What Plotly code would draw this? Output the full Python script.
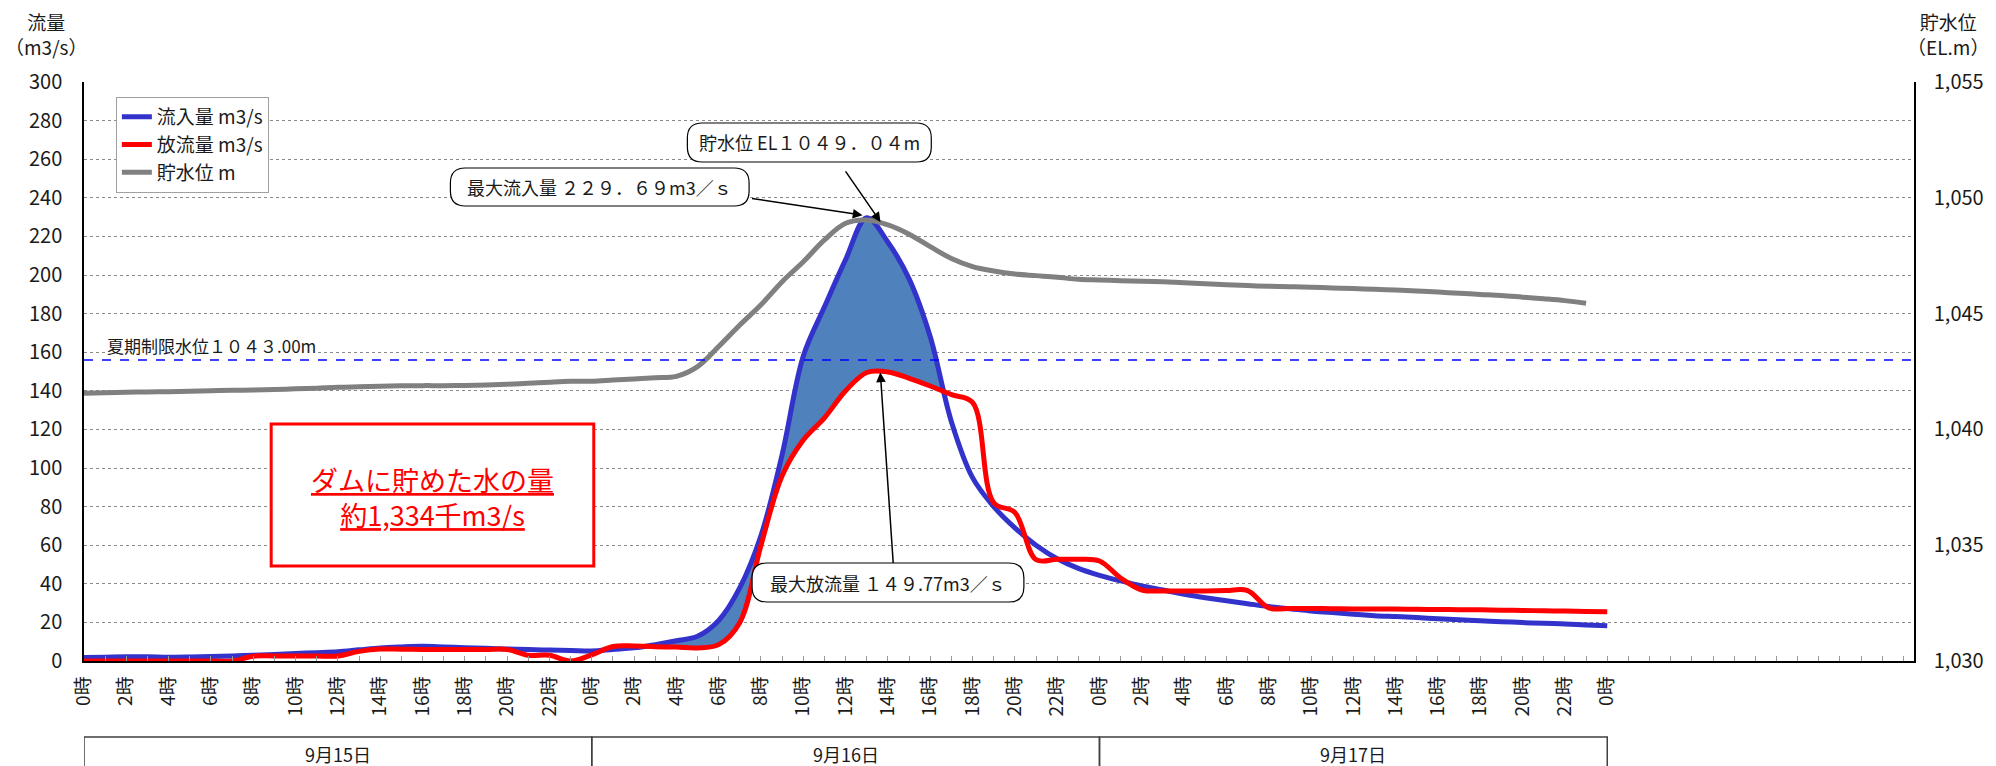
import plotly.graph_objects as go

# ---------------- data (hourly, 9/15 0時 = hour 0) ----------------
hours = list(range(73))
inflow = [
    1.8, 2.0, 2.2, 2.2, 2.0, 2.1, 2.3, 2.6, 3.0, 3.4, 3.9, 4.3,
    4.8, 5.8, 6.8, 7.3, 7.6, 7.3, 6.9, 6.6, 6.2, 5.9, 5.7, 5.5,
    5.2, 6.0, 6.8, 8.5, 10.5, 12.8, 21.0, 38.0, 65.0, 107.0, 158.0, 183.5,
    208.0, 229.69, 217.0, 198.0, 168.0, 124.0, 95.0, 80.0, 69.0, 60.0, 53.0, 48.0,
    44.4, 41.5, 38.9, 36.8, 34.6, 32.8, 31.2, 29.7, 28.2, 27.1, 25.9, 25.1,
    24.2, 23.5, 23.0, 22.5, 21.9, 21.4, 20.8, 20.4, 19.9, 19.5, 19.2, 18.7,
    18.2,
]
outflow = [
    0.0, 0.0, 0.0, 0.0, 0.0, 0.0, 0.0, 0.0, 2.5, 2.6, 2.6, 2.6,
    2.6, 5.0, 6.2, 6.1, 6.0, 6.0, 6.0, 6.0, 6.0, 3.0, 3.0, 0.0,
    3.2, 7.5, 7.8, 7.4, 7.2, 6.8, 8.5, 20.0, 60.0, 96.0, 114.5, 126.0,
    140.0, 149.5, 149.77, 146.5, 142.5, 138.0, 134.0, 82.0, 77.0, 52.5, 52.7, 52.7,
    51.8, 43.0, 36.8, 36.3, 36.3, 36.3, 36.5, 36.5, 27.5, 27.2, 27.2, 27.1,
    27.0, 27.0, 26.9, 26.8, 26.7, 26.6, 26.5, 26.3, 26.2, 26.0, 25.9, 25.7,
    25.5,
]
level_hours = list(range(72))
level = [
    1041.56, 1041.58, 1041.60, 1041.62, 1041.63, 1041.65, 1041.67, 1041.69, 1041.70, 1041.72, 1041.75, 1041.78,
    1041.82, 1041.84, 1041.86, 1041.88, 1041.89, 1041.89, 1041.90, 1041.92, 1041.95, 1041.99, 1042.04, 1042.08,
    1042.08, 1042.13, 1042.18, 1042.23, 1042.29, 1042.71, 1043.58, 1044.51, 1045.38, 1046.38, 1047.24, 1048.18,
    1048.90, 1049.04, 1048.83, 1048.43, 1047.89, 1047.38, 1047.03, 1046.84, 1046.71, 1046.64, 1046.57, 1046.48,
    1046.45, 1046.42, 1046.40, 1046.37, 1046.33, 1046.29, 1046.25, 1046.21, 1046.18, 1046.16, 1046.14, 1046.11,
    1046.08, 1046.05, 1046.02, 1045.98, 1045.93, 1045.88, 1045.83, 1045.78, 1045.71, 1045.64, 1045.56, 1045.45,
]
label_hours = list(range(0, 73, 2))
label_text = [f"{h % 24}時" for h in label_hours]
dates = ["9月15日", "9月16日", "9月17日"]
limit_level = 1043.0

names = ["流入量 m3/s", "放流量 m3/s", "貯水位 m"]

# ---------------- styling ----------------
FONT = "Noto Sans CJK JP"
TXT = "#1a1a1a"
BLUE = "#3333CC"
RED = "#FF0000"
GRAY = "#808080"
FILL = "#4F81BD"

W, H = 1996, 766
L, R, T, B = 84, 74, 82, 105
PW, PH = W - L - R, H - T - B


def pp(px, py):
    return (px - L) / PW, (T + PH - py) / PH


def rounded_path(x0, y0, x1, y1, r):
    def P(x, y):
        a, b = pp(x, y)
        return f"{a:.5f},{b:.5f}"
    return (f"M {P(x0 + r, y0)} L {P(x1 - r, y0)} Q {P(x1, y0)} {P(x1, y0 + r)} "
            f"L {P(x1, y1 - r)} Q {P(x1, y1)} {P(x1 - r, y1)} L {P(x0 + r, y1)} "
            f"Q {P(x0, y1)} {P(x0, y1 - r)} L {P(x0, y0 + r)} Q {P(x0, y0)} {P(x0 + r, y0)} Z")


# ---------------- storage fill region (inflow > outflow around the peak) ----------------
diff = [a - b for a, b in zip(inflow, outflow)]
pk = inflow.index(max(inflow))
i0 = pk
while diff[i0 - 1] > 0:
    i0 -= 1
i1 = pk
while diff[i1 + 1] > 0:
    i1 += 1


def crossing(a, b):
    t = diff[a] / (diff[a] - diff[b])
    return hours[a] + t * (hours[b] - hours[a]), inflow[a] + t * (inflow[b] - inflow[a])


xc0, yc0 = crossing(i0 - 1, i0)
xc1, yc1 = crossing(i1, i1 + 1)
fx = [xc0] + hours[i0:i1 + 1] + [xc1]
f_top = [yc0] + inflow[i0:i1 + 1] + [yc1]
f_base = [yc0] + outflow[i0:i1 + 1] + [yc1]

fig = go.Figure()
spl = dict(shape="spline", smoothing=1.0)
fig.add_trace(go.Scatter(x=fx, y=f_base, mode="lines", line=dict(width=0, color=FILL, **spl),
                         showlegend=False, hoverinfo="skip"))
fig.add_trace(go.Scatter(x=fx, y=f_top, mode="lines", line=dict(width=0, color=FILL, **spl),
                         fill="tonexty", fillcolor=FILL, showlegend=False, hoverinfo="skip"))

fig.add_trace(go.Scatter(x=level_hours, y=level, name=names[2], mode="lines", yaxis="y2",
                         line=dict(color=GRAY, width=5, **spl), legendgroup="c", legendrank=3))
fig.add_trace(go.Scatter(x=hours, y=inflow, name=names[0], mode="lines",
                         line=dict(color=BLUE, width=5, **spl), legendgroup="a", legendrank=1))
fig.add_trace(go.Scatter(x=hours, y=outflow, name=names[1], mode="lines",
                         line=dict(color=RED, width=5, **spl), legendgroup="b", legendrank=2))

shapes = []
annotations = []

# limit level dashed line
shapes.append(dict(type="line", xref="paper", x0=0, x1=1, yref="y2", y0=limit_level, y1=limit_level,
                   line=dict(color="#0000FF", width=1.5, dash="dash"), layer="above"))
annotations.append(dict(xref="paper", x=pp(106, 0)[0], yref="y2", y=limit_level, xanchor="left",
                        yanchor="bottom", yshift=1, showarrow=False, bgcolor="white", borderpad=0,
                        text="夏期制限水位１０４３.00m", font=dict(family=FONT, size=17, color=TXT)))

# red storage box
bx0, by0 = pp(272, 424)
bx1, by1 = pp(596, 566)
shapes.append(dict(type="rect", xref="paper", yref="paper", x0=bx0, y0=by1, x1=bx1, y1=by0,
                   line=dict(color=RED, width=3), fillcolor="white", layer="above"))
cx, cy = pp(434, 497)
annotations.append(dict(xref="paper", yref="paper", x=cx, y=cy, xanchor="center", yanchor="middle",
                        showarrow=False,
                        text="<u>ダムに貯めた水の量</u><br><u>約1,334千m3/s</u>",
                        font=dict(family=FONT, size=27, color=RED), align="center"))

# callouts
callouts = [
    ((690, 123, 935, 162), "貯水位 EL１０４９．０４m"),
    ((452, 168, 752, 206), "最大流入量 ２２９．６９m3／ｓ"),
    ((755, 563, 1028, 602), "最大放流量 １４９.77m3／ｓ"),
]
for (x0, y0, x1, y1), txt in callouts:
    shapes.append(dict(type="path", xref="paper", yref="paper", path=rounded_path(x0, y0, x1, y1, 15),
                       line=dict(color="black", width=1.2), fillcolor="white", layer="above"))
    ax_, ay_ = pp((x0 + x1) / 2, (y0 + y1) / 2)
    annotations.append(dict(xref="paper", yref="paper", x=ax_, y=ay_, xanchor="center", yanchor="middle",
                            showarrow=False, text=txt, font=dict(family=FONT, size=18, color=TXT)))

# arrows (head at data points)
arrow = dict(showarrow=True, arrowhead=2, arrowsize=1.3, arrowwidth=1.5, arrowcolor="black",
             text="", standoff=0, xref="x", yref="y")
annotations.append(dict(x=36.8, y=231, ax=-112, ay=-17, **arrow))
annotations.append(dict(x=37.65, y=227.5, ax=-36, ay=-52, **arrow))
annotations.append(dict(x=37.64, y=149.5, ax=13, ay=192, **arrow))

# date boxes
box_top = pp(0, 737)[1]
box_bot = pp(0, 800)[1]
for i, d in enumerate(dates):
    shapes.append(dict(type="rect", xref="x", yref="paper", x0=24 * i, x1=24 * (i + 1),
                       y0=box_bot, y1=box_top, line=dict(color="#404040", width=1.5), layer="above"))
    annotations.append(dict(xref="x", yref="paper", x=24 * i + 12, y=pp(0, 754)[1], xanchor="center",
                            yanchor="middle", showarrow=False,
                            text=d, font=dict(family=FONT, size=18, color=TXT)))

# axis titles
annotations.append(dict(xref="paper", yref="paper", x=pp(46, 0)[0], y=pp(0, 6)[1], xanchor="center",
                        yanchor="top", showarrow=False, text="流量<br>（m3/s）", align="center",
                        font=dict(family=FONT, size=19, color=TXT)))
annotations.append(dict(xref="paper", yref="paper", x=pp(1956, 0)[0], y=pp(0, 6)[1], xanchor="center",
                        yanchor="top", showarrow=False, text="貯水位<br>（EL.m）", align="center",
                        font=dict(family=FONT, size=19, color=TXT)))

grid = dict(showgrid=True, gridcolor="#8a8a8a", gridwidth=1, griddash="dot")

fig.update_layout(
    width=W, height=H,
    margin=dict(l=L, r=R, t=T, b=B),
    paper_bgcolor="white", plot_bgcolor="white",
    font=dict(family=FONT, color=TXT),
    xaxis=dict(range=[0, 86.5], tickmode="array", tickvals=label_hours, ticktext=label_text,
               tickangle=-90, ticks="inside", ticklen=5, tickcolor="#999999",
               minor=dict(tickmode="linear", tick0=0, dtick=1, ticks="inside", ticklen=5, tickcolor="#999999"),
               showline=True, linecolor="black", linewidth=1.5, showgrid=False, zeroline=False,
               tickfont=dict(family=FONT, size=19, color=TXT), ticklabelstandoff=6),
    yaxis=dict(range=[0, 300], dtick=20, tick0=0, showline=True, linecolor="black", linewidth=1.5,
               zeroline=False, ticks="", tickfont=dict(family=FONT, size=20, color=TXT),
               ticklabelstandoff=16, **grid),
    yaxis2=dict(range=[1030, 1055], dtick=5, tick0=1030, overlaying="y", side="right",
                showline=True, linecolor="black", linewidth=1.5, showgrid=False, zeroline=False,
                tickformat=",d", ticks="", tickfont=dict(family=FONT, size=20, color=TXT),
                ticklabelstandoff=14),
    legend=dict(x=pp(116, 0)[0], y=pp(0, 97)[1], xanchor="left", yanchor="top",
                bordercolor="#a0a0a0", borderwidth=1, bgcolor="white",
                font=dict(family=FONT, size=19, color=TXT), tracegroupgap=0,
                traceorder="grouped"),
    shapes=shapes,
    annotations=annotations,
)

fig.write_html("out.html", config={"displayModeBar": False},
               post_script="document.body.style.margin='0';")
